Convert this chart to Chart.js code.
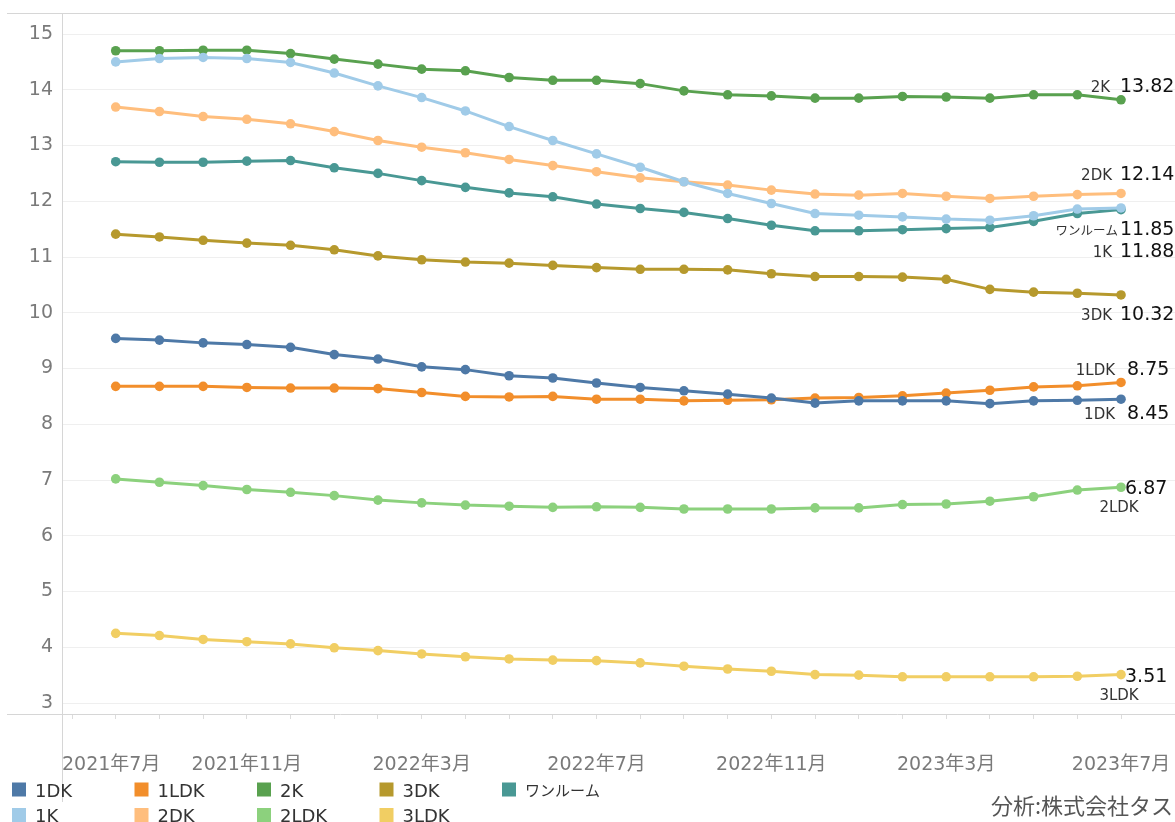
<!DOCTYPE html>
<html>
<head>
<meta charset="utf-8">
<script src="https://cdn.jsdelivr.net/npm/chart.js@4.4.1/dist/chart.umd.min.js"></script>
<style>
  html, body { margin: 0; padding: 0; background: #fff; }
  canvas { display: block; }
</style>
</head>
<body>
<canvas id="rentChart" width="1175" height="822"></canvas>
<script>
// months on the time axis; there is no value for 2021年7月, so every series starts with null
const months = [
  '2021年7月', '2021年8月', '2021年9月', '2021年10月', '2021年11月', '2021年12月',
  '2022年1月', '2022年2月', '2022年3月', '2022年4月', '2022年5月', '2022年6月',
  '2022年7月', '2022年8月', '2022年9月', '2022年10月', '2022年11月', '2022年12月',
  '2023年1月', '2023年2月', '2023年3月', '2023年4月', '2023年5月', '2023年6月', '2023年7月'
];
const tickMonths = ['2021年7月', '2021年11月', '2022年3月', '2022年7月', '2022年11月', '2023年3月', '2023年7月'];
const yTicks = [3, 4, 5, 6, 7, 8, 9, 10, 11, 12, 13, 14, 15];

const layouts = ['1DK', '1K', '1LDK', '2DK', '2K', '2LDK', '3DK', '3LDK', 'ワンルーム'];

const rent1DK = [null, 9.54, 9.51, 9.46, 9.43, 9.38, 9.25, 9.17, 9.03, 8.98, 8.87, 8.83, 8.74,
  8.66, 8.60, 8.54, 8.47, 8.38, 8.42, 8.42, 8.42, 8.37, 8.42, 8.43, 8.45];
const rent1K = [null, 14.50, 14.56, 14.58, 14.56, 14.49, 14.30, 14.07, 13.86, 13.62, 13.34, 13.09, 12.85,
  12.61, 12.35, 12.14, 11.96, 11.78, 11.75, 11.72, 11.68, 11.66, 11.74, 11.86, 11.88];
const rent1LDK = [null, 8.68, 8.68, 8.68, 8.66, 8.65, 8.65, 8.64, 8.57, 8.50, 8.49, 8.50, 8.45,
  8.45, 8.42, 8.43, 8.44, 8.47, 8.48, 8.51, 8.56, 8.61, 8.67, 8.69, 8.75];
const rent2DK = [null, 13.69, 13.61, 13.52, 13.47, 13.39, 13.25, 13.09, 12.97, 12.87, 12.75, 12.64, 12.53,
  12.42, 12.35, 12.29, 12.20, 12.13, 12.11, 12.14, 12.09, 12.05, 12.09, 12.12, 12.14];
const rent2K = [null, 14.70, 14.70, 14.71, 14.71, 14.65, 14.55, 14.46, 14.37, 14.34, 14.22, 14.17, 14.17,
  14.11, 13.98, 13.91, 13.89, 13.85, 13.85, 13.88, 13.87, 13.85, 13.91, 13.91, 13.82];
const rent2LDK = [null, 7.02, 6.96, 6.90, 6.83, 6.78, 6.72, 6.64, 6.59, 6.55, 6.53, 6.51, 6.52,
  6.51, 6.48, 6.48, 6.48, 6.50, 6.50, 6.56, 6.57, 6.62, 6.70, 6.82, 6.87];
const rent3DK = [null, 11.41, 11.36, 11.30, 11.25, 11.21, 11.13, 11.02, 10.95, 10.91, 10.89, 10.85, 10.81,
  10.78, 10.78, 10.77, 10.70, 10.65, 10.65, 10.64, 10.60, 10.42, 10.37, 10.35, 10.32];
const rent3LDK = [null, 4.25, 4.21, 4.14, 4.10, 4.06, 3.99, 3.94, 3.88, 3.83, 3.79, 3.77, 3.76,
  3.72, 3.66, 3.61, 3.57, 3.51, 3.50, 3.47, 3.47, 3.47, 3.47, 3.48, 3.51];
const rentOneRoom = [null, 12.71, 12.70, 12.70, 12.72, 12.73, 12.60, 12.50, 12.37, 12.25, 12.15, 12.08, 11.95,
  11.87, 11.80, 11.69, 11.57, 11.47, 11.47, 11.49, 11.51, 11.53, 11.64, 11.78, 11.85];

const seriesValues = [rent1DK, rent1K, rent1LDK, rent2DK, rent2K, rent2LDK, rent3DK, rent3LDK, rentOneRoom];
const colors = ['#4e79a7', '#a0cbe8', '#f28e2b', '#ffbe7d', '#59a14f', '#8cd17d', '#b6992d', '#f1ce63', '#499894'];

// where each end-of-line label sits relative to the last point
const endLabelPlacement = {
  '1DK':     { mode: 'side', dx: 6, dy: 13, gap: 12 },
  '1K':      { mode: 'side', dx: -1, dy: 42, gap: 8 },
  '1LDK':    { mode: 'side', dx: 6, dy: -14, gap: 12 },
  '2DK':     { mode: 'side', dx: -1, dy: -20, gap: 8 },
  '2K':      { mode: 'side', dx: -1, dy: -15, gap: 10 },
  '2LDK':    { mode: 'below', dx: 4, dy: 0 },
  '3DK':     { mode: 'side', dx: -1, dy: 18, gap: 8 },
  '3LDK':    { mode: 'below', dx: 4, dy: 0 },
  'ワンルーム': { mode: 'side', dx: -1, dy: 18, gap: 2 }
};

const FONT = '"DejaVu Sans", "Noto Sans CJK JP", sans-serif';
const AXIS_GREY = '#7a7a7a';
const LINE_GREY = '#d6d6d6';

const datasets = layouts.map((name, i) => ({
  label: name,
  data: seriesValues[i].map((v, m) => ({ x: m, y: v })),
  borderColor: colors[i],
  backgroundColor: colors[i],
  borderWidth: 3,
  pointRadius: 4.8,
  pointBorderWidth: 0,
  pointHoverRadius: 4.8,
  tension: 0
}));

const decorations = {
  id: 'decorations',
  afterDraw(chart) {
    const ctx = chart.ctx;
    const area = chart.chartArea;
    const xs = chart.scales.x;
    ctx.save();

    // frame: top rule, x axis extension, y axis extension below the plot
    ctx.strokeStyle = LINE_GREY;
    ctx.lineWidth = 1;
    ctx.beginPath();
    ctx.moveTo(7, area.top + 0.5); ctx.lineTo(chart.width, area.top + 0.5);
    ctx.moveTo(7, area.bottom + 0.5); ctx.lineTo(area.left, area.bottom + 0.5);
    ctx.moveTo(area.left + 0.5, area.bottom); ctx.lineTo(area.left + 0.5, 802);
    ctx.stroke();

    // month labels, kept inside the axis span
    ctx.font = '19px ' + FONT;
    ctx.fillStyle = AXIS_GREY;
    ctx.textBaseline = 'middle';
    ctx.textAlign = 'left';
    tickMonths.forEach(label => {
      const px = xs.getPixelForValue(months.indexOf(label));
      const w = ctx.measureText(label).width;
      let left = px - w / 2;
      left = Math.max(left, area.left);
      left = Math.min(left, chart.width - w);
      ctx.fillText(label, left, 765);
    });

    // value + name at the end of each line
    chart.data.datasets.forEach((ds, i) => {
      const meta = chart.getDatasetMeta(i);
      const last = meta.data[meta.data.length - 1];
      const value = seriesValues[i][seriesValues[i].length - 1].toFixed(2);
      const p = endLabelPlacement[ds.label];
      ctx.fillStyle = '#111';
      ctx.textAlign = 'left';
      ctx.textBaseline = 'alphabetic';
      ctx.font = '19px ' + FONT;
      const vx = last.x + p.dx;
      const base = last.y + p.dy + 7;
      ctx.fillText(value, vx, base);
      const cjk = /[^\x00-\x7f]/.test(ds.label);
      ctx.font = (cjk ? '12.5px ' : '15px ') + FONT;
      ctx.fillStyle = '#333';
      if (p.mode === 'side') {
        ctx.textAlign = 'right';
        ctx.fillText(ds.label, vx - p.gap, base);
      } else {
        ctx.textAlign = 'center';
        ctx.fillText(ds.label, last.x - 2, base + 18);
      }
    });

    // legend, two rows filled column by column
    ctx.textAlign = 'left';
    ctx.textBaseline = 'middle';
    layouts.forEach((name, k) => {
      const x = 12 + Math.floor(k / 2) * 122.5;
      const y = 789.5 + (k % 2) * 25.5;
      ctx.fillStyle = colors[k];
      ctx.fillRect(x, y - 7, 14, 14);
      ctx.fillStyle = '#333';
      ctx.font = (/[^\x00-\x7f]/.test(name) ? '15px ' : '18px ') + FONT;
      ctx.fillText(name, x + 23, y + 2.5);
    });

    // source note
    ctx.font = '22px "Noto Sans CJK JP", sans-serif';
    ctx.fillStyle = '#555';
    ctx.textAlign = 'right';
    ctx.fillText('分析:株式会社タス', chart.width - 2, 806);
    ctx.restore();
  }
};

new Chart(document.getElementById('rentChart'), {
  type: 'line',
  data: { datasets },
  options: {
    responsive: false,
    animation: false,
    layout: { autoPadding: false, padding: { top: 13, left: 0, right: 0, bottom: 0 } },
    plugins: { legend: { display: false }, tooltip: { enabled: false } },
    events: [],
    scales: {
      x: {
        type: 'linear',
        min: -0.229,
        max: 25.235,
        afterBuildTicks: s => { s.ticks = months.map((m, i) => ({ value: i })); },
        afterFit: s => { s.height = 108; s.paddingLeft = 0; s.paddingRight = 0; },
        ticks: { display: false },
        grid: { drawOnChartArea: false, drawTicks: true, tickLength: 5, color: '#dcdcdc' },
        border: { display: true, color: LINE_GREY }
      },
      y: {
        min: 2.803,
        max: 15.377,
        afterBuildTicks: s => { s.ticks = yTicks.map(v => ({ value: v })); },
        afterFit: s => { s.width = 62; s.paddingTop = 0; s.paddingBottom = 0; },
        ticks: { padding: 9, color: AXIS_GREY, font: { family: FONT, size: 19 } },
        grid: { color: '#efefef', drawTicks: false },
        border: { display: true, color: LINE_GREY }
      }
    }
  },
  plugins: [decorations]
});
</script>
</body>
</html>
